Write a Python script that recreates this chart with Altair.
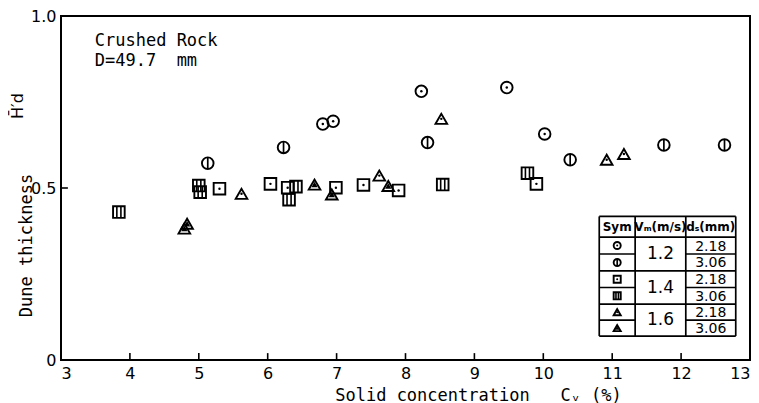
import altair as alt
import pandas as pd

# ---------------- data ----------------
# Vm = 1.2 m/s
c_dot_x = [6.80, 6.95, 8.23, 9.47, 10.02]            # ds = 2.18 mm
c_dot_y = [0.686, 0.694, 0.781, 0.792, 0.657]
c_bar_x = [5.13, 6.23, 8.32, 10.39, 11.75, 12.63]    # ds = 3.06 mm
c_bar_y = [0.572, 0.618, 0.632, 0.582, 0.625, 0.625]
# Vm = 1.4 m/s
s_dot_x = [5.30, 6.04, 6.29, 6.99, 7.39, 7.90, 9.90]
s_dot_y = [0.498, 0.512, 0.501, 0.501, 0.509, 0.493, 0.512]
s_bar_x = [3.84, 5.00, 5.02, 6.31, 6.41, 8.54, 9.77]
s_bar_y = [0.430, 0.507, 0.488, 0.466, 0.504, 0.510, 0.543]
# Vm = 1.6 m/s
t_dot_x = [5.62, 7.62, 8.52, 10.92, 11.17]
t_dot_y = [0.483, 0.536, 0.701, 0.582, 0.599]
t_fill_x = [4.79, 4.83, 6.68, 6.93, 7.75]
t_fill_y = [0.382, 0.396, 0.510, 0.481, 0.506]

x_ticks = [3, 4, 5, 6, 7, 8, 9, 10, 11, 12, 13]
y_ticks = [0, 0.5, 1.0]
vm_labels = ["1.2", "1.4", "1.6"]
ds_labels = ["2.18", "3.06", "2.18", "3.06", "2.18", "3.06"]
header_labels = ["Sym", "Vₘ(m/s)", "dₛ(mm)"]
NB = "\u00a0"
note_lines = ["Crushed" + NB + "Rock", "D=49.7" + NB * 2 + "mm"]
x_title = "Solid" + NB + "concentration" + NB * 3 + "Cᵥ" + NB + "(%)"
y_title = "Dune" + NB + "thickness"

FONT = "DejaVu Sans"
MONO = "DejaVu Sans Mono"
VLINE = "M0,-1L0,1"
DLINE = "M-0.35,-1L-0.35,1M0.35,-1L0.35,1"

series = [
    (c_dot_x, c_dot_y, "circle", "dot"),
    (c_bar_x, c_bar_y, "circle", "vline"),
    (s_dot_x, s_dot_y, "square", "dot"),
    (s_bar_x, s_bar_y, "square", "dline"),
    (t_dot_x, t_dot_y, "triangle-up", "dot"),
    (t_fill_x, t_fill_y, "triangle-up", "tri"),
]

# ---------------- legend-table layout (data coordinates) ----------------
tx = [10.812, 11.333, 12.068, 12.793]          # column borders
ty_top, ty_head = 0.4174, 0.3574
ty_rows = [0.3574, 0.3081, 0.2588, 0.2107, 0.1623, 0.1159, 0.0696]
row_mid = [(ty_rows[i] + ty_rows[i + 1]) / 2 for i in range(6)]

rows = []
for xs, ys, outer, inner in series:
    for x, y in zip(xs, ys):
        rows.append(dict(x=x, y=y, outer=outer, inner=inner, sz=135))
for i, (_, _, outer, inner) in enumerate(series):
    rows.append(dict(x=(tx[0] + tx[1]) / 2, y=row_mid[i], outer=outer, inner=inner, sz=50))
pts = pd.DataFrame(rows)
pts["dsz"] = pts["sz"].apply(lambda s: 6 if s > 60 else 4)
pts["trsz"] = pts["sz"].apply(lambda s: 40 if s > 60 else 16)

xsc = alt.Scale(domain=[3, 13], nice=False, zero=False)
ysc = alt.Scale(domain=[0, 1], nice=False)

base = alt.Chart(pts)
X = alt.X("x:Q", scale=xsc,
          axis=alt.Axis(values=x_ticks, format="d", ticks=False, domain=False, grid=False,
                        labelFont=FONT, labelFontSize=16, labelPadding=5,
                        labelColor="black",
                        title=x_title,
                        titleFont=MONO, titleFontSize=17, titleFontWeight="normal",
                        titleColor="black",
                        titleX=417, titleY=40, titleAlign="center",
                        titleBaseline="alphabetic", titleAnchor="start"))
Y = alt.Y("y:Q", scale=ysc,
          axis=alt.Axis(values=y_ticks, ticks=False, domain=False, grid=False,
                        labelFont=FONT, labelFontSize=16, labelPadding=5,
                        labelColor="black",
                        labelExpr="datum.value == 0 ? '0' : format(datum.value, '.1f')",
                        title=y_title, titleFont=MONO, titleFontSize=17,
                        titleFontWeight="normal", titleColor="black",
                        titleAngle=270, titleX=-35, titleY=229,
                        titleAlign="center", titleBaseline="middle",
                        titleAnchor="start"))

outer_layer = base.mark_point(filled=False, color="black", strokeWidth=1.9, opacity=1).encode(
    x=X, y=Y,
    shape=alt.Shape("outer:N", scale=alt.Scale(domain=["circle", "square", "triangle-up"],
                                               range=["circle", "square", "triangle-up"]),
                    legend=None),
    size=alt.Size("sz:Q", scale=None),
)
dot_layer = base.transform_filter(alt.datum.inner == "dot").mark_point(
    filled=True, color="black", shape="circle", opacity=1).encode(
    x="x:Q", y="y:Q", size=alt.Size("dsz:Q", scale=None))
tri_layer = base.transform_filter(alt.datum.inner == "tri").mark_point(
    filled=True, color="black", shape="triangle-up", opacity=1).encode(
    x="x:Q", y="y:Q", size=alt.Size("trsz:Q", scale=None))
vline_layer = base.transform_filter(alt.datum.inner == "vline").mark_point(
    filled=False, color="black", shape=VLINE, strokeWidth=1.7, opacity=1).encode(
    x="x:Q", y="y:Q", size=alt.Size("sz:Q", scale=None))
dline_layer = base.transform_filter(alt.datum.inner == "dline").mark_point(
    filled=False, color="black", shape=DLINE, strokeWidth=1.6, opacity=1).encode(
    x="x:Q", y="y:Q", size=alt.Size("sz:Q", scale=None))

# inward ticks
xt = pd.DataFrame({"x": x_ticks, "y": [0] * len(x_ticks), "y2": [0.02] * len(x_ticks)})
yt = pd.DataFrame({"y": y_ticks, "x": [3] * len(y_ticks), "x2": [3.1] * len(y_ticks)})
xtick_layer = alt.Chart(xt).mark_rule(color="black", strokeWidth=1.6).encode(
    x="x:Q", y="y:Q", y2="y2:Q")
ytick_layer = alt.Chart(yt).mark_rule(color="black", strokeWidth=1.6).encode(
    x="x:Q", x2="x2:Q", y="y:Q")

# legend table lines
lines = []
for yy in [ty_top, ty_head, ty_rows[2], ty_rows[4], ty_rows[6]]:
    lines.append(dict(x=tx[0], x2=tx[3], y=yy, y2=yy))
for yy in [ty_rows[1], ty_rows[3], ty_rows[5]]:
    lines.append(dict(x=tx[0], x2=tx[1], y=yy, y2=yy))
    lines.append(dict(x=tx[2], x2=tx[3], y=yy, y2=yy))
for xx in tx:
    lines.append(dict(x=xx, x2=xx, y=ty_rows[6], y2=ty_top))
lines_df = pd.DataFrame(lines)
table_lines = alt.Chart(lines_df).mark_rule(color="black", strokeWidth=1.7).encode(
    x="x:Q", x2="x2:Q", y="y:Q", y2="y2:Q")

head_df = pd.DataFrame({
    "x": [(tx[0] + tx[1]) / 2, (tx[1] + tx[2]) / 2, (tx[2] + tx[3]) / 2],
    "y": [(ty_top + ty_head) / 2] * 3,
    "t": header_labels,
})
head_text = alt.Chart(head_df).mark_text(font=FONT, fontSize=12, fontWeight="bold",
                                         color="black", baseline="middle").encode(
    x="x:Q", y="y:Q", text="t:N")
vm_df = pd.DataFrame({"x": [(tx[1] + tx[2]) / 2] * 3,
                      "y": [ty_rows[1], ty_rows[3], ty_rows[5]],
                      "t": vm_labels})
vm_text = alt.Chart(vm_df).mark_text(font=FONT, fontSize=17, color="black",
                                     baseline="middle").encode(x="x:Q", y="y:Q", text="t:N")
ds_df = pd.DataFrame({"x": [(tx[2] + tx[3]) / 2] * 6, "y": row_mid, "t": ds_labels})
ds_text = alt.Chart(ds_df).mark_text(font=FONT, fontSize=14, color="black",
                                     baseline="middle", dy=1).encode(x="x:Q", y="y:Q", text="t:N")

note_df = pd.DataFrame({"x": [3.49, 3.49], "y": [0.928, 0.870], "t": note_lines})
note_text = alt.Chart(note_df).mark_text(font=MONO, fontSize=17, color="black", align="left",
                                         baseline="middle").encode(x="x:Q", y="y:Q", text="t:N")

hd_text = alt.Chart(pd.DataFrame({"t": ["H̄′d"]})).mark_text(
    font=FONT, fontSize=16, color="black", angle=270, baseline="middle", align="center").encode(
    x=alt.value(-43), y=alt.value(90), text="t:N")

chart = alt.layer(
    outer_layer, dot_layer, tri_layer, vline_layer, dline_layer,
    xtick_layer, ytick_layer, table_lines, head_text, vm_text, ds_text, note_text, hd_text,
).properties(
    width=689, height=344,
    autosize=alt.AutoSizeParams(type="none"),
    padding={"left": 53, "top": 8, "right": 1, "bottom": 43},
    background="white",
).configure_view(stroke="black", strokeWidth=2)

chart.save("out.html", embed_options={"renderer": "svg", "actions": False})
